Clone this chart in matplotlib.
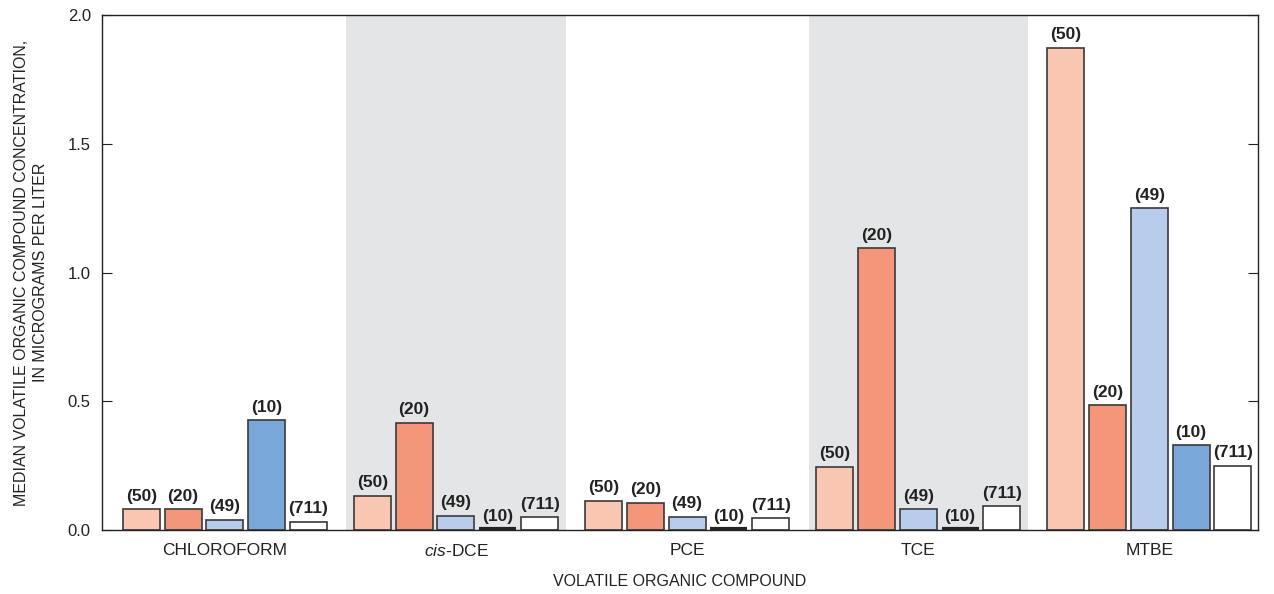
import matplotlib
matplotlib.use('Agg')
import matplotlib.pyplot as plt
import numpy as np

plt.rcParams['font.family'] = ['Liberation Sans', 'DejaVu Sans']
plt.rcParams['mathtext.fontset'] = 'custom'
plt.rcParams['mathtext.rm'] = 'Liberation Sans'
plt.rcParams['mathtext.it'] = 'Liberation Sans:italic'

# 数据
compounds = ['CHLOROFORM', r'$\mathit{cis}$-DCE', 'PCE', 'TCE', 'MTBE']
sample_counts = ['(50)', '(20)', '(49)', '(10)', '(711)']
series_1 = [0.080, 0.132, 0.114, 0.245, 1.872]
series_2 = [0.080, 0.417, 0.106, 1.095, 0.485]
series_3 = [0.039, 0.056, 0.052, 0.080, 1.250]
series_4 = [0.427, 0.003, 0.003, 0.003, 0.329]
series_5 = [0.032, 0.049, 0.045, 0.093, 0.249]
series = [series_1, series_2, series_3, series_4, series_5]
colors = ['#F9C7B1', '#F39679', '#B8CDEB', '#7AA7D9', '#FFFFFF']
shaded_groups = [1, 3]

fig = plt.figure(figsize=(12.74, 5.94), dpi=100)
ax = fig.add_axes([0.080, 0.1077, 0.9074, 0.867])

x = np.arange(len(compounds))
pitch = 0.181
width = 0.160

for g in shaded_groups:
    ax.axvspan(g - 0.474, g + 0.474, color='#E4E5E7', lw=0, zorder=0)

for i, vals in enumerate(series):
    pos = x + (i - 2) * pitch
    for xi, v in zip(pos, vals):
        if v < 0.01:
            ax.plot([xi - width / 2, xi + width / 2], [0.004, 0.004], color='#222222', lw=3, zorder=3,
                    solid_capstyle='butt')
        else:
            ax.bar(xi, v, width=width, color=colors[i], edgecolor='#3a3a3a', linewidth=1.2, zorder=2)
        ax.annotate(sample_counts[i], (xi, v), xytext=(0, 4), textcoords='offset points',
                    ha='center', va='bottom', fontsize=12.5, fontweight='bold', color='#222222', zorder=4)

ax.set_xlim(-0.532, 4.47)
ax.set_ylim(0, 2.0)
ax.set_yticks([0.0, 0.5, 1.0, 1.5, 2.0])
ax.set_yticklabels(['0.0', '0.5', '1.0', '1.5', '2.0'])
ax.set_xticks(x)
ax.set_xticklabels(compounds)
ax.tick_params(axis='x', length=0, pad=9, labelsize=12.5, colors='#222222')
ax.tick_params(axis='y', direction='in', length=7, right=True, labelsize=12, colors='#222222', pad=8)

for s in ax.spines.values():
    s.set_linewidth(1.0)
    s.set_color('#222222')

ax.set_xlabel('VOLATILE ORGANIC COMPOUND', fontsize=11.5, labelpad=11, color='#222222')
ax.set_ylabel('MEDIAN VOLATILE ORGANIC COMPOUND CONCENTRATION,\nIN MICROGRAMS PER LITER',
              fontsize=11.5, labelpad=14, color='#222222', linespacing=1.35)

plt.savefig('out.png', dpi=100)
